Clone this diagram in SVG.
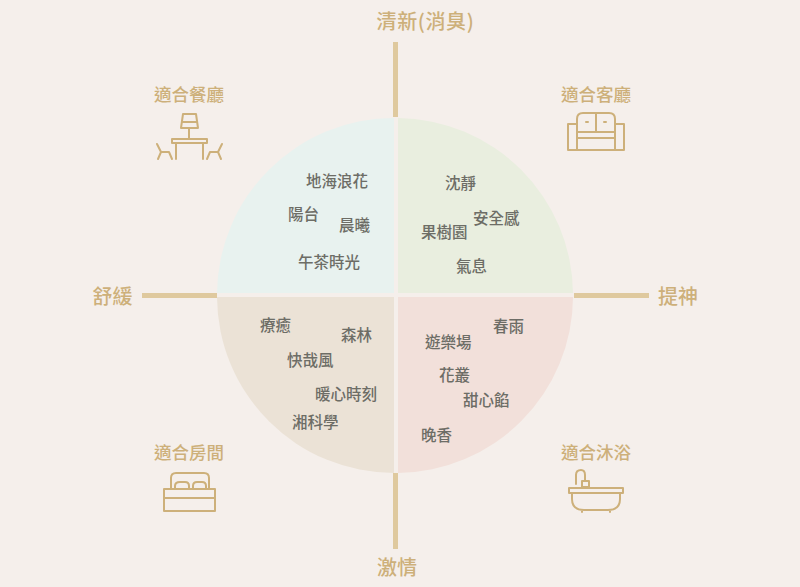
<svg xmlns="http://www.w3.org/2000/svg" width="800" height="587" viewBox="0 0 800 587">
<style>
text{font-family:"Noto Sans CJK TC","Noto Sans",sans-serif}
.g{font-size:15.5px;font-weight:500;fill:#6d6d66}
.t{font-size:17.5px;font-weight:500;fill:#cdb07a;text-anchor:middle}
.a{font-size:20px;font-weight:500;fill:#cdb07a;text-anchor:middle}
.l{fill:none;stroke:#cdb07a;stroke-width:2;stroke-linecap:round;stroke-linejoin:round}
.ax{fill:#dfc99e}
</style>
<rect width="800" height="587" fill="#f5efeb"/>
<g id="quadrants">
<path d="M394 118A177 177 0 0 0 217 293H394Z" fill="#e8f2ef"/>
<path d="M398 118A177 177 0 0 1 573 293H398Z" fill="#e9eedf"/>
<path d="M394 297V473A177 177 0 0 1 217 297Z" fill="#ebe2d6"/>
<path d="M398 297V473A177 177 0 0 0 573 297Z" fill="#f2e0da"/>
</g>
<g id="connectors">
<rect class="ax" x="393" y="42" width="5" height="75"/>
<rect class="ax" x="393" y="473" width="5" height="76"/>
<rect class="ax" x="142" y="293" width="75" height="5"/>
<rect class="ax" x="574" y="293" width="75" height="5"/>
</g>
<g id="axis-top"><text class="a" x="425.5" y="29" letter-spacing="0.6">清新(消臭)</text></g>
<g id="axis-bottom"><text class="a" x="397" y="575">激情</text></g>
<g id="axis-left"><text class="a" x="112.500" y="304">舒緩</text></g>
<g id="axis-right"><text class="a" x="678" y="304">提神</text></g>
<g id="dining"><text class="t" x="189" y="101">適合餐廳</text>
<path class="l" d="M183 114H196L198 128H181ZM182 122H197M189 128V139M172 139H207V143H172ZM176 143V159M203 143V159M157 144L161 152L158 159M161 152H169L172 159M222 144L218 152L221 159M218 152H210L207 159"/></g>
<g id="living"><text class="t" x="596" y="101">適合客廳</text>
<path class="l" d="M568 124H577V150H568ZM624 124H615V150H624ZM577 132H615M577 138H615M577 150H615M577 126V119Q577 113 583 113H596V132M596 113H609Q615 113 615 119V126M586 122H588M604 122H606"/></g>
<g id="bedroom"><text class="t" x="189" y="459">適合房間</text>
<path class="l" d="M171 489V478Q171 473 176 473H204Q209 473 209 478V489M164 489H215V511H164ZM164 498H215M175 489V486Q175 482 180 482H185Q189 482 189 486V489M193 489V486Q193 482 197 482H202Q206 482 206 486V489"/></g>
<g id="bath"><text class="t" x="596" y="459">適合沐浴</text>
<path class="l" d="M576 484V475Q576 470 581 470Q585 470 585 475V481M582 481H589V487H582ZM569 488H623V493H569ZM572 493V499Q572 510 584 510H608Q620 510 620 499V493M582 510V512M610 510V512"/></g>
<g id="labels">
<text class="g" x="306" y="187">地海浪花</text>
<text class="g" x="288" y="220">陽台</text>
<text class="g" x="339" y="231">晨曦</text>
<text class="g" x="298" y="268">午茶時光</text>
<text class="g" x="445" y="189">沈靜</text>
<text class="g" x="473" y="224">安全感</text>
<text class="g" x="421" y="238">果樹園</text>
<text class="g" x="456" y="272">氣息</text>
<text class="g" x="260" y="331">療癒</text>
<text class="g" x="341" y="341">森林</text>
<text class="g" x="287" y="366">快哉風</text>
<text class="g" x="315" y="400">暖心時刻</text>
<text class="g" x="292" y="428">湘科學</text>
<text class="g" x="493" y="332">春雨</text>
<text class="g" x="425" y="348">遊樂場</text>
<text class="g" x="439" y="381">花叢</text>
<text class="g" x="463" y="406">甜心餡</text>
<text class="g" x="421" y="441">晚香</text>
</g>
</svg>
